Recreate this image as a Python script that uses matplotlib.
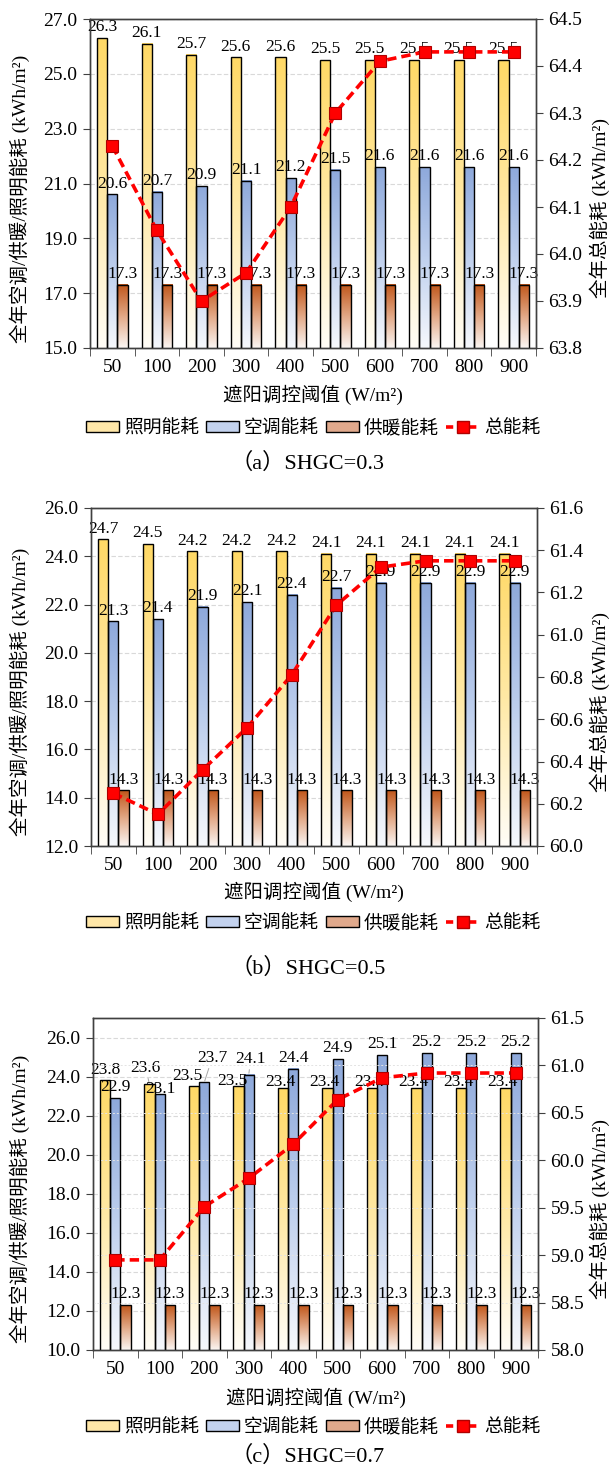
import numpy as np
import matplotlib
matplotlib.use('Agg')
import matplotlib.pyplot as plt
from matplotlib.colors import LinearSegmentedColormap
from matplotlib.patches import Patch
from matplotlib.lines import Line2D

plt.rcParams['font.family'] = ['Liberation Serif', 'Noto Sans CJK SC']

# data
thresholds = ['50', '100', '200', '300', '400', '500', '600', '700', '800', '900']

light_a = [26.3, 26.1, 25.7, 25.6, 25.6, 25.5, 25.5, 25.5, 25.5, 25.5]
ac_a = [20.6, 20.7, 20.9, 21.1, 21.2, 21.5, 21.6, 21.6, 21.6, 21.6]
heat_a = [17.3] * 10
total_a = [64.23, 64.05, 63.90, 63.96, 64.10, 64.30, 64.41, 64.43, 64.43, 64.43]

light_b = [24.7, 24.5, 24.2, 24.2, 24.2, 24.1, 24.1, 24.1, 24.1, 24.1]
ac_b = [21.3, 21.4, 21.9, 22.1, 22.4, 22.7, 22.9, 22.9, 22.9, 22.9]
heat_b = [14.3] * 10
total_b = [60.25, 60.15, 60.36, 60.56, 60.81, 61.14, 61.32, 61.35, 61.35, 61.35]

light_c = [23.8, 23.6, 23.5, 23.5, 23.4, 23.4, 23.4, 23.4, 23.4, 23.4]
ac_c = [22.9, 23.1, 23.7, 24.1, 24.4, 24.9, 25.1, 25.2, 25.2, 25.2]
heat_c = [12.3] * 10
total_c = [58.95, 58.95, 59.51, 59.81, 60.17, 60.64, 60.87, 60.92, 60.92, 60.92]

series_names = ['照明能耗', '空调能耗', '供暖能耗', '总能耗']
xlabel = '遮阳调控阈值 (W/m²)'
ylabel_left = '全年空调/供暖/照明能耗 (kWh/m²)'
ylabel_right = '全年总能耗 (kWh/m²)'

W, H = 616, 1469
PX = 72 / 100  # points per pixel
fig = plt.figure(figsize=(W / 100, H / 100), dpi=100)

cmaps = [
    LinearSegmentedColormap.from_list('yel', ['#FFFDF7', '#FFE9A6', '#FFD966']),
    LinearSegmentedColormap.from_list('blu', ['#F6F8FC', '#BFD0EE', '#8EA9DB']),
    LinearSegmentedColormap.from_list('brn', ['#FBF6F3', '#E2A886', '#C0561A']),
]
legend_faces = ['#FFE7A8', '#C3D2EE', '#E0A98C']
grad = np.linspace(0, 1, 128).reshape(-1, 1)
bw = 0.23
spine_col = '#404040'


def draw_panel(box, light, ac, heat, total, ylo, yhi, lticks, rlo, rhi, rticks,
               caption, below, nudges=None, rgrid=False):
    left, top, right, bottom = box
    xlab_off, leg_off, cap_off = below
    ax = fig.add_axes([left / W, 1 - bottom / H, (right - left) / W, (bottom - top) / H])
    x = np.arange(len(thresholds))
    groups = [light, ac, heat]
    offs = [-bw, 0, bw]
    for vals, off, cm in zip(groups, offs, cmaps):
        for xi, v in zip(x, vals):
            ax.imshow(grad, extent=[xi + off - bw / 2, xi + off + bw / 2, ylo, v],
                      origin='lower', aspect='auto', cmap=cm, zorder=2,
                      interpolation='bilinear')
        ax.bar(x + off, vals, bw, fill=False, edgecolor='black', linewidth=1.0, zorder=3)
    ax.set_xlim(-0.5, len(thresholds) - 0.5)
    ax.set_ylim(ylo, yhi)

    # data labels (nudges in pixels)
    nudges = nudges or {}
    for gi, (vals, off) in enumerate(zip(groups, offs)):
        for xi, v in zip(x, vals):
            dx, dy, lead = nudges.get((gi, xi), (0, 0, False))
            kw = {}
            if lead:
                kw['arrowprops'] = dict(arrowstyle='-', color='#A6A6A6', lw=0.7,
                                        shrinkA=0, shrinkB=1)
            ax.annotate(f'{v:.1f}', xy=(xi + off, v),
                        xytext=(dx * PX, 2 + dy * PX),
                        textcoords='offset points', ha='center', va='bottom',
                        fontsize=12.5, zorder=4, **kw)

    ax.set_xticks(x)
    ax.set_xticklabels(thresholds, fontsize=14)
    ax.set_xticks(np.arange(-0.5, len(thresholds), 1), minor=True)
    ax.tick_params(axis='x', which='major', length=0, pad=8)
    ax.tick_params(axis='x', which='minor', length=6, color=spine_col, direction='out')
    ax.set_yticks(lticks)
    ax.set_yticklabels([f'{t:.1f}' for t in lticks], fontsize=14)
    ax.tick_params(axis='y', length=5, color=spine_col, direction='out', pad=4)
    ax.yaxis.grid(True, color='#D9D9D9', linestyle=(0, (4, 2)), linewidth=0.8)
    ax.set_axisbelow(True)
    for s in ax.spines.values():
        s.set_color(spine_col)
        s.set_linewidth(1.0)

    ax.set_xlabel(xlabel, fontsize=14, va='center')
    ax.xaxis.set_label_coords(0.5, -xlab_off / (bottom - top))
    ax.set_ylabel(ylabel_left, fontsize=14, va='center')
    ax.yaxis.set_label_coords((20 - left) / (right - left),
                              0.5 - 15 / (bottom - top))

    ax2 = ax.twinx()
    ax2.plot(x, total, color='#FF0000', linestyle='--', dashes=(2.6, 1.4), linewidth=2.6,
             marker='s', markersize=8.5, markerfacecolor='#FF0000',
             markeredgecolor='#B00000', markeredgewidth=0.8, zorder=5)
    ax2.set_ylim(rlo, rhi)
    ax2.set_yticks(rticks)
    ax2.set_yticklabels([f'{t:.1f}' for t in rticks], fontsize=14)
    ax2.tick_params(axis='y', length=5, color=spine_col, direction='out', pad=4)
    if rgrid:
        ax2.yaxis.grid(True, color='#E3E3E3', linestyle=(0, (2, 2)), linewidth=0.7)
    for s in ax2.spines.values():
        s.set_color(spine_col)
        s.set_linewidth(1.0)
    ax2.set_ylabel(ylabel_right, fontsize=14, va='center')
    ax2.yaxis.set_label_coords((600 - left) / (right - left),
                               0.5 - 25 / (bottom - top))

    handles = [Patch(facecolor=c, edgecolor='black', linewidth=1.0) for c in legend_faces]
    handles.append(Line2D([], [], color='#FF0000', linestyle='--', dashes=(2.0, 1.2),
                          linewidth=2.6, marker='s', markersize=8.5,
                          markerfacecolor='#FF0000', markeredgecolor='#B00000'))
    fig.legend(handles, series_names, loc='center', ncol=4, frameon=False,
               bbox_to_anchor=(313 / W, 1 - (bottom + leg_off) / H), fontsize=13.5,
               handlelength=1.8, handleheight=0.55, handletextpad=0.25,
               columnspacing=0.35, borderaxespad=0)
    fig.text(308 / W, 1 - (bottom + cap_off) / H, caption, ha='center', va='center',
             fontsize=16)
    return ax, ax2


draw_panel((90, 19, 536, 348), light_a, ac_a, heat_a, total_a,
           15, 27, np.arange(15, 27.1, 2), 63.8, 64.5, np.linspace(63.8, 64.5, 8),
           '（a）SHGC=0.3', (47, 80, 115))
draw_panel((91, 508, 537, 846), light_b, ac_b, heat_b, total_b,
           12, 26, np.arange(12, 26.1, 2), 60.0, 61.6, np.linspace(60.0, 61.6, 9),
           '（b）SHGC=0.5', (46, 77, 122))
# labels moved by hand in panel c: (series, category) -> (dx px, dy px, leader line)
nudges_c = {(0, 1): (-4, 6, True), (1, 1): (1, -6, False),
            (0, 2): (-7, 0, False), (1, 2): (8, 14, True),
            (0, 3): (-6, -5, False), (1, 3): (2, 5, True)}
for k in range(4, 10):
    nudges_c[(0, k)] = (-3, -4, False)
draw_panel((93, 1018, 538, 1350), light_c, ac_c, heat_c, total_c,
           10, 27, np.arange(10, 26.1, 2), 58.0, 61.5, np.linspace(58.0, 61.5, 8),
           '（c）SHGC=0.7', (48, 77, 106), nudges=nudges_c, rgrid=True)

fig.savefig('out.png', dpi=100)
